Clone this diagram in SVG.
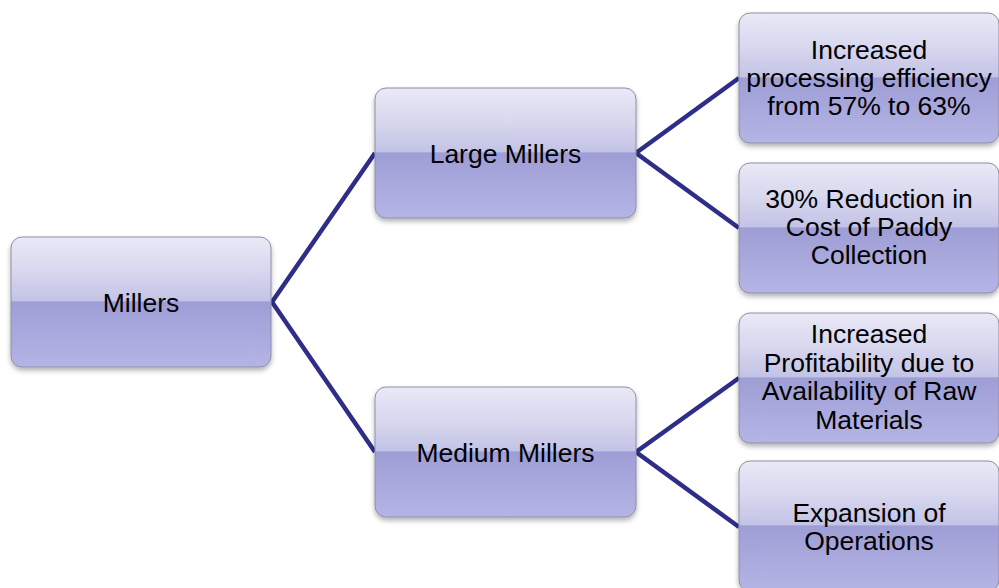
<svg xmlns="http://www.w3.org/2000/svg" width="999" height="588" viewBox="0 0 999 588">
<defs>
<linearGradient id="g" x1="0" y1="0" x2="0" y2="1">
<stop offset="0" stop-color="#e9e9f7"/>
<stop offset="0.25" stop-color="#d8d8ef"/>
<stop offset="0.49" stop-color="#c3c3e6"/>
<stop offset="0.5" stop-color="#9e9ed6"/>
<stop offset="1" stop-color="#b4b4e5"/>
</linearGradient>
<filter id="sh" x="-10%" y="-10%" width="120%" height="130%">
<feDropShadow dx="0" dy="3" stdDeviation="2.5" flood-color="#000" flood-opacity="0.3"/>
</filter>
</defs>
<style>
.box{fill:url(#g);stroke:#8e8ea6;stroke-width:1;filter:url(#sh)}
.t{font-family:"Liberation Sans",Arial,sans-serif;font-size:26.5px;fill:#000;text-anchor:middle}
.c{fill:none;stroke:#2e2e88;stroke-width:4.5;stroke-linejoin:miter}
</style>
<rect width="999" height="588" fill="#fff"/>
<g id="connectors">
<polyline class="c" points="375,153 272,302 375,452"/>
<polyline class="c" points="739,78 636,153 739,228"/>
<polyline class="c" points="739,378 636,452 739,527"/>
</g>
<g id="millers">
<rect class="box" x="11" y="237" width="260" height="130" rx="11"/>
<text class="t" x="141" y="311.5">Millers</text>
</g>
<g id="large-millers">
<rect class="box" x="375" y="88" width="261" height="130" rx="11"/>
<text class="t" x="505.5" y="163">Large Millers</text>
</g>
<g id="medium-millers">
<rect class="box" x="375" y="387" width="261" height="130" rx="11"/>
<text class="t" x="505.5" y="462">Medium Millers</text>
</g>
<g id="efficiency">
<rect class="box" x="739" y="13" width="260" height="130" rx="11"/>
<text class="t" x="869" y="59">Increased</text>
<text class="t" x="869" y="87">processing efficiency</text>
<text class="t" x="869" y="115">from 57% to 63%</text>
</g>
<g id="reduction">
<rect class="box" x="739" y="163" width="260" height="130" rx="11"/>
<text class="t" x="869" y="208">30% Reduction in</text>
<text class="t" x="869" y="236">Cost of Paddy</text>
<text class="t" x="869" y="264">Collection</text>
</g>
<g id="profitability">
<rect class="box" x="739" y="313" width="260" height="130" rx="11"/>
<text class="t" x="869" y="343">Increased</text>
<text class="t" x="869" y="371.5">Profitability due to</text>
<text class="t" x="869" y="400">Availability of Raw</text>
<text class="t" x="869" y="428.5">Materials</text>
</g>
<g id="expansion">
<rect class="box" x="739" y="461" width="260" height="130" rx="11"/>
<text class="t" x="869" y="522">Expansion of</text>
<text class="t" x="869" y="550">Operations</text>
</g>
</svg>
